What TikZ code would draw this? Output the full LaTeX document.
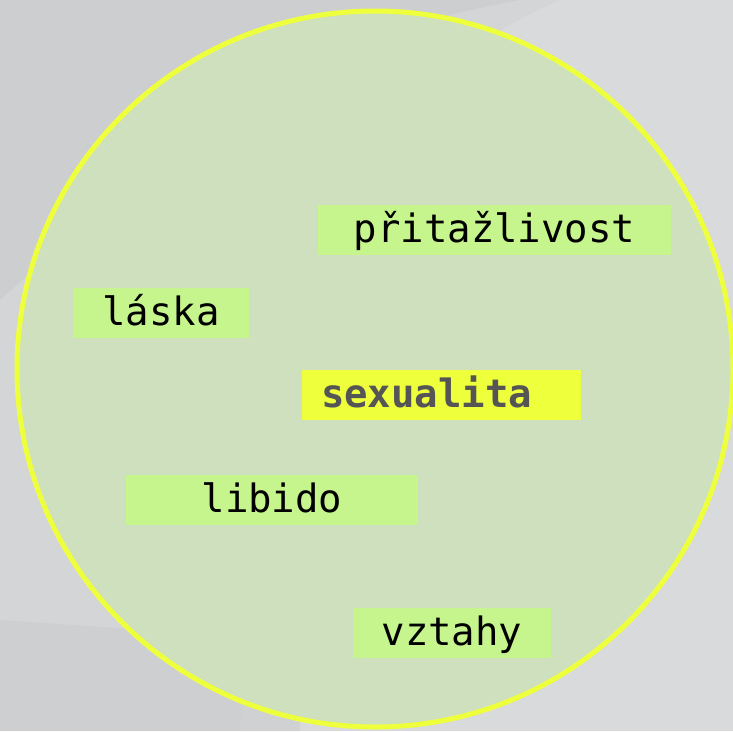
\documentclass[tikz,border=0pt]{standalone}
\usepackage{fontspec}
\setmonofont{DejaVu Sans Mono}
\definecolor{bggray}{HTML}{D4D5D7}
\definecolor{bgdark}{HTML}{C9CACC}
\definecolor{bglight}{HTML}{DCDDDF}
\definecolor{circfill}{HTML}{CFE0BF}
\definecolor{yel}{HTML}{EEFF3C}
\definecolor{lgreen}{HTML}{C6F58D}
\definecolor{txtgray}{HTML}{555555}
\tikzset{
  tag/.style={fill=lgreen, inner sep=0pt, minimum height=50pt,
    font=\ttfamily\fontsize{39}{39}\selectfont, text=black,
    text height=30pt, text depth=6pt},
  keytag/.style={tag, fill=yel, text=txtgray, font=\ttfamily\bfseries\fontsize{39}{39}\selectfont}
}
\begin{document}
\begin{tikzpicture}[x=1pt,y=-1pt]
\useasboundingbox (0,0) rectangle (733,731);
% background
\fill[bggray] (0,0) rectangle (733,731);
\fill[bgdark, opacity=0.6] (0,0) -- (520,0) .. controls (300,40) and (200,120) .. (0,300) -- cycle;
\fill[bglight, opacity=0.7] (733,0) -- (560,0) .. controls (380,80) and (300,200) .. (240,731) -- (733,731) -- cycle;
\fill[bgdark, opacity=0.5] (0,620) -- (300,640) -- (300,731) -- (0,731) -- cycle;
% circle
\node[circle, draw=yel, line width=5pt, fill=circfill, minimum size=716pt, inner sep=0pt] (c) at (375,369) {};
% tags
\node[tag, minimum width=353pt] (p) at (494.5,230) {přitažlivost};
\node[tag, minimum width=176pt] (l) at (161,313) {láska};
\node[keytag, text width=241pt, inner xsep=19pt, align=left] (s) at (441.5,395) {sexualita};
\node[tag, minimum width=292pt] (b) at (272,500) {libido};
\node[tag, minimum width=198pt] (v) at (452,633) {vztahy};
\end{tikzpicture}
\end{document}
